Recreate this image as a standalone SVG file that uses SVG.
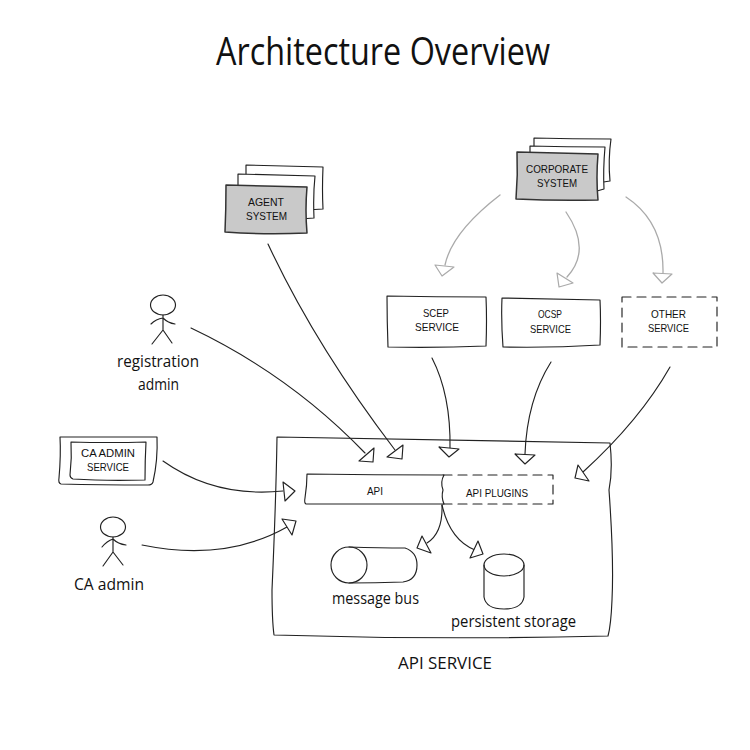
<svg xmlns="http://www.w3.org/2000/svg" width="750" height="750" viewBox="0 0 750 750">
<style>
text{font-family:"Open Sans","Liberation Sans",sans-serif;fill:#111;text-anchor:start}
.s{font-family:"Liberation Sans",Arial,sans-serif;font-size:11.5px}
.m{font-size:16px}
.l{fill:none;stroke:#222;stroke-width:1.15;stroke-linecap:round;stroke-linejoin:round}
.w{fill:#fff;stroke:#222;stroke-width:1.15;stroke-linejoin:round}
.g{fill:#c9c9c9;stroke:#333;stroke-width:1.5;stroke-linejoin:round}
.d{stroke-dasharray:9 6}
.c{fill:none;stroke:#222;stroke-width:1.15;stroke-linecap:round}
.cg{fill:none;stroke:#aaa;stroke-width:1.3;stroke-linecap:round}
.h{fill:#fff;stroke:#222;stroke-width:1.15;stroke-linejoin:round}
.hg{fill:#fff;stroke:#aaa;stroke-width:1.2;stroke-linejoin:round}
</style>
<rect width="750" height="750" fill="#fff"/>
<text id="title" x="216" y="65" font-size="38" textLength="334" lengthAdjust="spacingAndGlyphs">Architecture Overview</text>

<g id="api-service">
<path class="w" d="M277 437Q440 440 610 443Q613 470 609 490Q614 560 612 600Q611 625 608 636Q440 640 274 635Q272 620 272 590Q276 500 277 437Z"/>
<text x="398" y="669" class="m" textLength="94" lengthAdjust="spacingAndGlyphs">API SERVICE</text>
</g>
<g id="api-plugins">
<path class="l d" d="M443 475H553V504H443"/>
<text x="466" y="497" class="s" textLength="62" lengthAdjust="spacingAndGlyphs">API PLUGINS</text>
</g>
<g id="api">
<path class="w" d="M307 474Q375 475 444 475Q440 482 443 490Q441 497 444 504Q375 504 306 504Q304 503 305 498Q307 485 307 474Z"/>
<text x="367" y="495" class="s" textLength="16" lengthAdjust="spacingAndGlyphs">API</text>
</g>
<g id="message-bus">
<path class="l" d="M349 547Q380 548 405 548Q417 552 417 565Q417 580 403 582Q375 583 349 583"/>
<ellipse class="l" cx="349" cy="565" rx="18" ry="18"/>
<text x="332" y="604" class="m" textLength="87" lengthAdjust="spacingAndGlyphs">message bus</text>
</g>
<g id="persistent-storage">
<path class="l" d="M484 565V597Q486 609 504 609Q522 609 524 597V565"/>
<ellipse class="l" cx="504" cy="565" rx="20" ry="11"/>
<text x="451" y="627" class="m" textLength="125" lengthAdjust="spacingAndGlyphs">persistent storage</text>
</g>

<g id="agent-system">
<path class="w" d="M246 165Q285 166 323 167Q322 190 323 209L306 210L246 200Z"/>
<path class="w" d="M238 174Q277 175 315 176Q313 195 314 218L300 219L238 210Z"/>
<path class="g" d="M226 185Q265 186 307 187Q305 210 307 233Q265 235 225 232Q226 210 226 185Z"/>
<text x="248" y="206" class="s" textLength="36" lengthAdjust="spacingAndGlyphs">AGENT</text>
<text x="246" y="220" class="s" textLength="41" lengthAdjust="spacingAndGlyphs">SYSTEM</text>
</g>
<g id="corporate-system">
<path class="w" d="M534 138Q573 139 611 139Q608 160 610 181L597 183L534 170Z"/>
<path class="w" d="M530 146Q567 147 605 147Q603 170 604 189L597 191L530 180Z"/>
<path class="g" d="M517 152Q557 153 598 154Q596 178 598 200Q557 201 516 199Q518 175 517 152Z"/>
<text x="526" y="173" class="s" textLength="62" lengthAdjust="spacingAndGlyphs">CORPORATE</text>
<text x="537" y="187" class="s" textLength="40" lengthAdjust="spacingAndGlyphs">SYSTEM</text>
</g>
<g id="scep-service">
<path class="l" d="M387 296Q437 297 486 297Q487 320 486 346Q437 348 388 347Q387 320 387 296Z"/>
<text x="423" y="317" class="s" textLength="26" lengthAdjust="spacingAndGlyphs">SCEP</text>
<text x="415" y="331" class="s" textLength="44" lengthAdjust="spacingAndGlyphs">SERVICE</text>
</g>
<g id="ocsp-service">
<path class="l" d="M502 298Q550 299 600 300Q601 320 600 345Q550 348 503 347Q501 320 502 298Z"/>
<text x="538" y="318" class="s" textLength="24" lengthAdjust="spacingAndGlyphs">OCSP</text>
<text x="530" y="333" class="s" textLength="41" lengthAdjust="spacingAndGlyphs">SERVICE</text>
</g>
<g id="other-service">
<path class="l d" d="M622 297H717V347H622Z"/>
<text x="651" y="318" class="s" textLength="35" lengthAdjust="spacingAndGlyphs">OTHER</text>
<text x="648" y="332" class="s" textLength="41" lengthAdjust="spacingAndGlyphs">SERVICE</text>
</g>
<g id="registration-admin">
<ellipse class="l" cx="163" cy="305" rx="12.5" ry="10"/>
<path class="l" d="M163 315V330M163 330L152 344M163 330L172 343M151 324Q156 319 163 318Q168 323 175 324"/>
<text x="117" y="367" class="m" textLength="82" lengthAdjust="spacingAndGlyphs">registration</text>
<text x="138" y="390" class="m" textLength="41" lengthAdjust="spacingAndGlyphs">admin</text>
</g>
<g id="ca-admin-service">
<path class="l" d="M60 437Q110 437 157 437Q158 460 153 482Q152 485 148 485Q100 485 61 484Q58 483 59 478Q61 455 60 437Z"/>
<path class="l" d="M71 442Q110 443 146 442Q145 460 145 480Q105 481 73 479Q70 478 70 475Q72 458 71 442Z"/>
<text x="81" y="457" class="s" textLength="54" lengthAdjust="spacingAndGlyphs">CA ADMIN</text>
<text x="87" y="471" class="s" textLength="42" lengthAdjust="spacingAndGlyphs">SERVICE</text>
</g>
<g id="ca-admin">
<ellipse class="l" cx="113" cy="527" rx="12.5" ry="10"/>
<path class="l" d="M113 537V552M113 552L103 566M113 552L123 565M102 547Q107 541 113 539Q118 544 126 545"/>
<text x="74" y="590" class="m" textLength="70" lengthAdjust="spacingAndGlyphs">CA admin</text>
</g>

<g id="connectors">
<path class="cg" d="M500 195Q452 232 445 265"/>
<polygon class="hg" points="435,265 454,267 442,276"/>
<path class="cg" d="M566 212Q592 250 567 277"/>
<polygon class="hg" points="557,273 573,283 559,287"/>
<path class="cg" d="M626 197Q664 222 663 273"/>
<polygon class="hg" points="653,273 672,274 662,283"/>
<path class="c" d="M191 328Q290 375 365 453"/>
<polygon class="h" points="359,461 374,448 373,462"/>
<path class="c" d="M268 244Q315 345 395 450"/>
<polygon class="h" points="387,457 403,445 402,459"/>
<path class="c" d="M432 358Q451 395 450 449"/>
<polygon class="h" points="439,447 459,449 449,457"/>
<path class="c" d="M551 362Q527 400 525 454"/>
<polygon class="h" points="515,454 535,455 525,464"/>
<path class="c" d="M670 367Q640 420 583 472"/>
<polygon class="h" points="578,465 589,481 575,478"/>
<path class="c" d="M163 461Q215 498 283 491"/>
<polygon class="h" points="283,482 295,491 285,501"/>
<path class="c" d="M142 545Q225 562 287 527"/>
<polygon class="h" points="282,519 296,521 292,535"/>
<path class="c" d="M442 505Q443 533 427 543"/>
<polygon class="h" points="422,536 431,553 417,548"/>
<path class="c" d="M442 505Q450 540 475 550"/>
<polygon class="h" points="478,541 483,554 470,558"/>
</g>
</svg>
